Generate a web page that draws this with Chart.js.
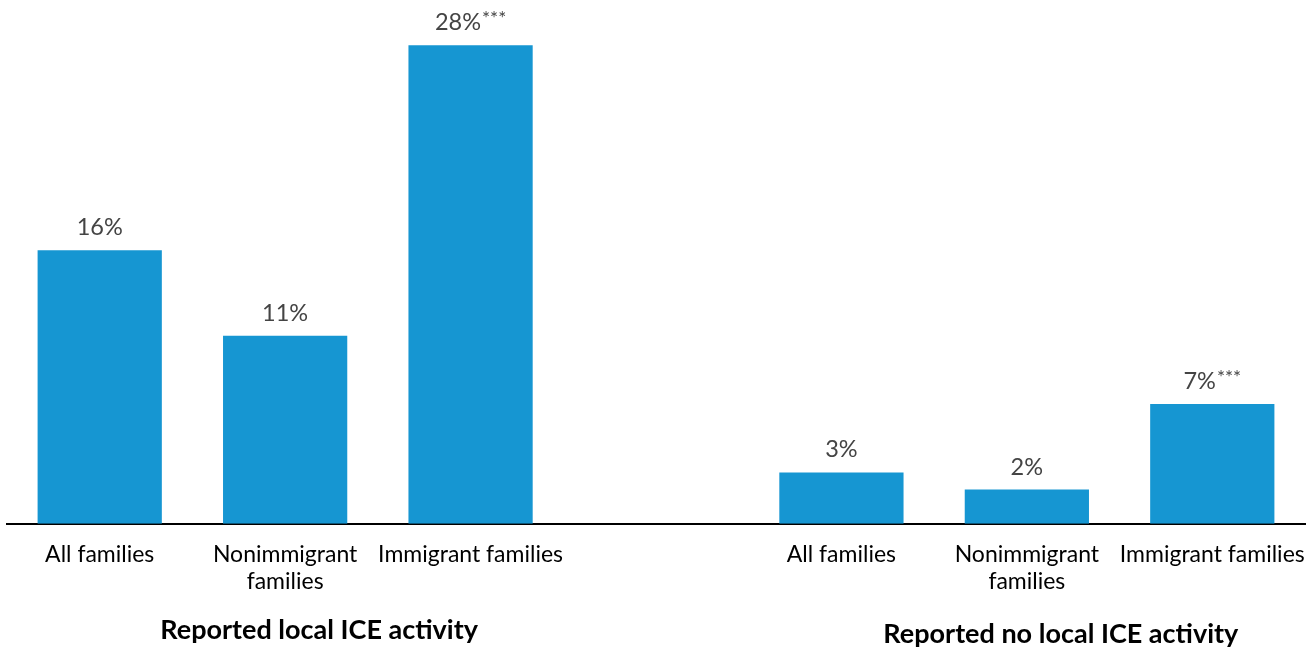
<!DOCTYPE html>
<html>
<head>
<meta charset="utf-8">
<script src="https://cdn.jsdelivr.net/npm/chart.js@4"></script>
<style>
  html, body { margin: 0; padding: 0; background: #fff; }
  #wrap { width: 1315px; height: 648px; }
</style>
</head>
<body>
<div id="wrap"><canvas id="iceChart"></canvas></div>
<script>
// bars: two groups of three, empty slot in the middle as a spacer
let categories = [
  'All families', ['Nonimmigrant', 'families'], 'Immigrant families',
  '',
  'All families', ['Nonimmigrant', 'families'], 'Immigrant families'
];
let values = [16, 11, 28, null, 3, 2, 7];
let stars = ['', '', '***', '', '', '', '***'];
let groupTitles = ['Reported local ICE activity', 'Reported no local ICE activity'];
let groupSlots = [[0, 2], [4, 6]];

let blue = '#1696d2';

// percent labels over each bar, with significance stars
let valueLabels = {
  id: 'valueLabels',
  afterDatasetsDraw(chart) {
    let c = chart.ctx;
    let meta = chart.getDatasetMeta(0);
    c.save();
    c.textBaseline = 'alphabetic';
    meta.data.forEach((bar, i) => {
      if (values[i] == null) return;
      let main = values[i] + '%';
      c.font = '23.5px Lato';
      let w1 = c.measureText(main).width;
      c.font = '19px Lato';
      let w2 = stars[i] ? c.measureText(stars[i]).width + 1 : 0;
      let x0 = bar.x - (w1 + w2) / 2;
      let y = bar.y - 15;
      c.fillStyle = '#444';
      c.textAlign = 'left';
      c.font = '23.5px Lato';
      c.fillText(main, x0, y);
      if (stars[i]) {
        c.font = '19px Lato';
        c.fillText(stars[i], x0 + w1 + 1, y - 5);
      }
    });
    c.restore();
  }
};

// bold group headings under the category labels
let groupLabels = {
  id: 'groupLabels',
  afterDraw(chart) {
    let c = chart.ctx;
    let x = chart.scales.x;
    c.save();
    c.font = 'bold 27px Lato';
    c.fillStyle = '#000';
    c.textAlign = 'center';
    c.textBaseline = 'middle';
    let ys = [630, 634];
    groupSlots.forEach((g, i) => {
      let cx = (x.getPixelForValue(g[0]) + x.getPixelForValue(g[1])) / 2 + 34;
      c.fillText(groupTitles[i], cx, ys[i]);
    });
    c.restore();
  }
};

new Chart(document.getElementById('iceChart'), {
  type: 'bar',
  data: {
    labels: categories,
    datasets: [{
      data: values,
      backgroundColor: blue,
      barPercentage: 0.67,
      categoryPercentage: 1
    }]
  },
  options: {
    responsive: true,
    maintainAspectRatio: false,
    animation: false,
    layout: { padding: { left: 7, right: 10, top: 11, bottom: 36 } },
    plugins: {
      legend: { display: false },
      tooltip: { enabled: false }
    },
    scales: {
      x: {
        grid: { display: false, drawTicks: false },
        border: { display: true, color: '#000', width: 2 },
        // let the outer labels hang past the plot edges
        afterFit(scale) {
          scale.paddingLeft = 0;
          scale.paddingRight = 0;
        },
        ticks: {
          color: '#000',
          padding: 17,
          maxRotation: 0,
          autoSkip: false,
          font: { family: 'Lato', size: 23, lineHeight: 1.18 }
        }
      },
      y: {
        display: false,
        min: 0,
        max: 30
      }
    }
  },
  plugins: [valueLabels, groupLabels]
});
</script>
</body>
</html>
